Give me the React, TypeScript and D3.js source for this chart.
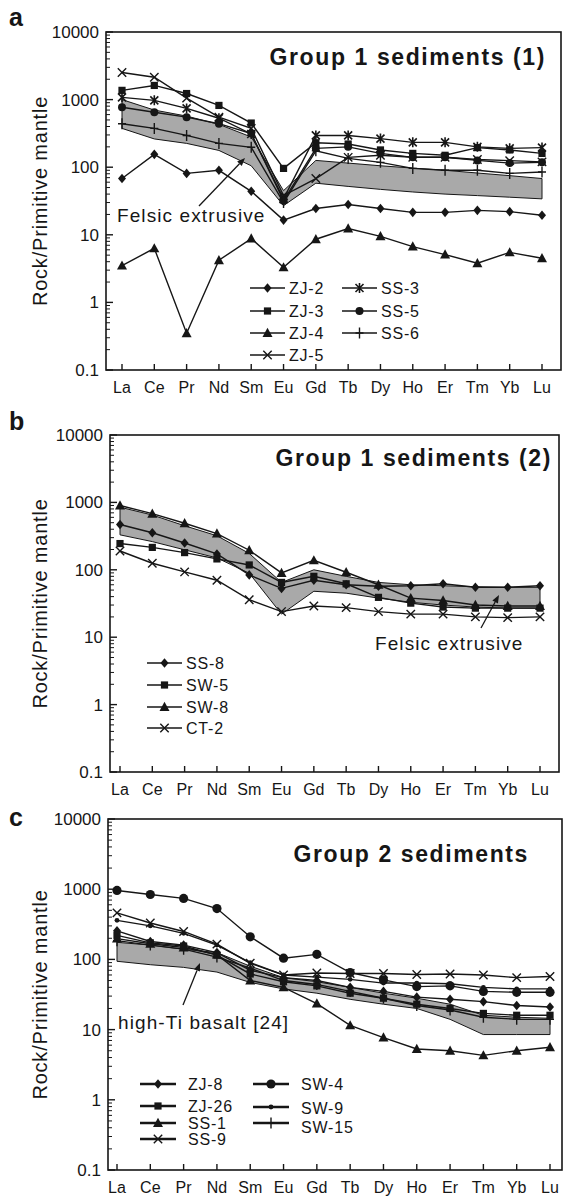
import * as d3 from 'd3'

// REE list and axis ticks
const elements = ['La', 'Ce', 'Pr', 'Nd', 'Sm', 'Eu', 'Gd', 'Tb', 'Dy', 'Ho', 'Er', 'Tm', 'Yb', 'Lu']
const yTickValues = [0.1, 1, 10, 100, 1000, 10000]
const yTickLabels = ['0.1', '1', '10', '100', '1000', '10000']

// panel a - group 1 sediments (1)
const zj2 = [68, 155, 81, 90, 44, 16.5, 24.5, 28, 24.5, 21.5, 21.5, 23, 22, 19.5]
const zj3 = [1370, 1620, 1230, 820, 450, 96, 230, 220, 180, 160, 150, 195, 180, 160]
const zj4 = [3.5, 6.3, 0.35, 4.2, 8.8, 3.3, 8.6, 12.4, 9.5, 6.7, 5.1, 3.8, 5.5, 4.5]
const zj5 = [2520, 2140, 1050, 550, 375, 38, 68, 140, 150, 140, 140, 130, 125, 120]
const ss3 = [1080, 975, 740, 530, 310, 34, 295, 295, 265, 233, 233, 200, 190, 195]
const ss5 = [770, 650, 550, 440, 315, 32, 190, 200, 160, 140, 140, 126, 115, 118]
const ss6 = [440, 375, 295, 225, 197, 30, 175, 135, 118, 96, 90, 90, 81, 85]
const felsicUpperA = [1000, 700, 570, 430, 280, 45, 126, 115, 105, 97, 90, 82, 75, 68]
const felsicLowerA = [375, 262, 225, 177, 105, 27, 58, 52, 47, 43, 40, 38, 36, 34]

// panel b - group 1 sediments (2)
const ss8 = [470, 355, 250, 172, 84, 53, 70, 60, 57, 58, 62, 55, 55, 58]
const sw5 = [245, 215, 180, 145, 118, 65, 80, 62, 39, 32, 28, 27, 27, 27]
const sw8 = [900, 680, 490, 345, 195, 90, 138, 92, 60, 38, 35, 30, 29, 29]
const ct2 = [190, 125, 93, 70, 36, 24, 29, 27.5, 24, 22, 22, 20, 19.5, 20]
const felsicUpperB = [850, 650, 450, 320, 175, 65, 100, 80, 65, 60, 58, 56, 55, 55]
const felsicLowerB = [330, 262, 198, 150, 89, 22, 48, 45, 38, 33, 30, 28, 27, 27]

// panel c - group 2 sediments
const zj8 = [255, 180, 160, 125, 70, 55, 50, 40, 35, 29, 27, 25, 22, 21]
const zj26 = [220, 172, 155, 115, 62, 48, 42, 33, 28, 23, 20, 17, 16, 16]
const ss1 = [198, 167, 148, 117, 50, 40, 23.5, 11.5, 7.7, 5.3, 5.0, 4.3, 5.0, 5.6]
const ss9 = [460, 330, 250, 165, 88, 60, 64, 63, 63, 61, 62, 60, 55, 57]
const sw4 = [960, 840, 740, 530, 210, 104, 118, 65, 51, 41, 42, 35, 34, 34]
const sw9 = [360, 300, 235, 160, 90, 60, 56, 52, 46, 46, 45, 40, 38, 38]
const sw15 = [185, 160, 140, 108, 75, 50, 44, 35, 28, 22, 19, 15, 14, 14]
const basaltUpper = [175, 160, 140, 125, 80, 55, 48, 40, 33, 28, 23, 16, 15, 14.5]
const basaltLower = [94, 84, 77, 66, 47, 38, 33, 27, 23, 20, 14, 8.5, 8.5, 8.5]

const FONT = 'Liberation Sans, Arial, Helvetica, sans-serif'
const INK = '#161616'

const panels = [
  {
    label: 'a', labelY: 26, left: 106, right: 561, top: 32, bottom: 370, x0: 122, x1: 542,
    title: 'Group 1 sediments (1)', titleX: 546, titleY: 65,
    series: [
      { name: 'ZJ-2', values: zj2, marker: 'diamond' },
      { name: 'ZJ-3', values: zj3, marker: 'square' },
      { name: 'ZJ-4', values: zj4, marker: 'triangle' },
      { name: 'ZJ-5', values: zj5, marker: 'cross' },
      { name: 'SS-3', values: ss3, marker: 'asterisk' },
      { name: 'SS-5', values: ss5, marker: 'circle' },
      { name: 'SS-6', values: ss6, marker: 'plus' },
    ],
    band: { upper: felsicUpperA, lower: felsicLowerA },
    note: { text: 'Felsic extrusive', x: 117, y: 222 },
    arrow: [199, 206, 245, 158],
    legendLine: 35, legendTextDx: 39, legendStroke: 1.6,
    legend: [
      [250, 288, 0], [250, 311, 0], [250, 333, 0], [250, 355, 0],
      [342, 288, 0], [342, 311, 0], [342, 333, 0],
    ],
  },
  {
    label: 'b', labelY: 430, left: 110, right: 559, top: 435, bottom: 772, x0: 120, x1: 540,
    title: 'Group 1 sediments (2)', titleX: 552, titleY: 466,
    series: [
      { name: 'SS-8', values: ss8, marker: 'diamond' },
      { name: 'SW-5', values: sw5, marker: 'square' },
      { name: 'SW-8', values: sw8, marker: 'triangle' },
      { name: 'CT-2', values: ct2, marker: 'cross' },
    ],
    band: { upper: felsicUpperB, lower: felsicLowerB },
    note: { text: 'Felsic extrusive', x: 375, y: 650 },
    arrow: [481, 628, 499, 595],
    legendLine: 35, legendTextDx: 39, legendStroke: 1.6,
    legend: [[147, 663, 0], [147, 685, 0], [147, 707, 0], [147, 728, 0]],
  },
  {
    label: 'c', labelY: 826, left: 108, right: 562, top: 819, bottom: 1170, x0: 117, x1: 550,
    title: 'Group 2 sediments', titleX: 529, titleY: 862,
    series: [
      { name: 'ZJ-8', values: zj8, marker: 'diamond' },
      { name: 'ZJ-26', values: zj26, marker: 'square' },
      { name: 'SS-1', values: ss1, marker: 'triangle' },
      { name: 'SS-9', values: ss9, marker: 'cross' },
      { name: 'SW-4', values: sw4, marker: 'bigcircle' },
      { name: 'SW-9', values: sw9, marker: 'dot' },
      { name: 'SW-15', values: sw15, marker: 'plus' },
    ],
    band: { upper: basaltUpper, lower: basaltLower },
    note: { text: 'high-Ti basalt [24]', x: 118, y: 1029 },
    arrow: [183, 1005, 200, 963],
    legendLine: 36, legendTextDx: 48, legendStroke: 2.4,
    legend: [
      [140, 1084, 0], [140, 1106, 0], [140, 1123, 0], [140, 1139, 0],
      [253, 1084, 0], [253, 1107, 1], [253, 1123, 4],
    ],
  },
]

function Marker({ type, x, y }: { type: string; x: number; y: number }) {
  const t = `translate(${x},${y})`
  switch (type) {
    case 'diamond':
      return <path transform={t} d="M0,-4.8L4,0L0,4.8L-4,0Z" fill={INK} />
    case 'square':
      return <rect x={x - 3.6} y={y - 3.6} width={7.2} height={7.2} fill={INK} />
    case 'triangle':
      return <path transform={t} d="M0,-5.2L5,4L-5,4Z" fill={INK} />
    case 'circle':
      return <circle cx={x} cy={y} r={4} fill={INK} />
    case 'bigcircle':
      return <circle cx={x} cy={y} r={4.6} fill={INK} />
    case 'dot':
      return <circle cx={x} cy={y} r={2.4} fill={INK} />
    case 'cross':
      return <path transform={t} d="M-4.2,-4.2L4.2,4.2M-4.2,4.2L4.2,-4.2" stroke={INK} strokeWidth={1.4} />
    case 'asterisk':
      return <path transform={t} d="M-4,-4L4,4M-4,4L4,-4M0,-5L0,5" stroke={INK} strokeWidth={1.6} />
    case 'plus':
      return <path transform={t} d="M0,-5.5L0,5.5M-4,0L4,0" stroke={INK} strokeWidth={1.4} />
    default:
      return null
  }
}

function Panel({ p }: { p: any }) {
  const x = d3.scalePoint<string>().domain(elements).range([p.x0, p.x1])
  const y = d3.scaleLog().domain([0.1, 10000]).range([p.bottom, p.top])

  const line = d3.line<number>()
    .x((_, i) => x(elements[i]) as number)
    .y(d => y(d))

  const area = d3.area<number>()
    .x((_, i) => x(elements[i]) as number)
    .y0((_, i) => y(p.band.lower[i]))
    .y1(d => y(d))

  // log minor ticks 2..9 per decade
  const minor: number[] = []
  for (let e = -1; e < 4; e++) {
    for (let k = 2; k < 10; k++) minor.push(k * Math.pow(10, e))
  }

  const [ax0, ay0, ax1, ay1] = p.arrow
  const ang = Math.atan2(ay1 - ay0, ax1 - ax0)
  const head = 8
  const hw = 3.2
  const bx = ax1 - head * Math.cos(ang)
  const by = ay1 - head * Math.sin(ang)
  const headPath = `M${ax1},${ay1}L${bx - hw * Math.sin(ang)},${by + hw * Math.cos(ang)}L${bx + hw * Math.sin(ang)},${by - hw * Math.cos(ang)}Z`

  const cy = (p.top + p.bottom) / 2

  return (
    <g fontFamily={FONT}>
      <text x={9} y={p.labelY} fontSize={25} fontWeight="bold" fill={INK}>{p.label}</text>

      {/* band */}
      <path d={area(p.band.upper) || ''} fill="#a9a9a9" stroke={INK} strokeWidth={1} />

      {/* series */}
      {p.series.map((s: any) => (
        <g key={s.name}>
          <path d={line(s.values) || ''} fill="none" stroke={INK} strokeWidth={1.4} />
          {s.values.map((v: number, i: number) => (
            <Marker key={i} type={s.marker} x={x(elements[i]) as number} y={y(v)} />
          ))}
        </g>
      ))}

      {/* frame */}
      <rect x={p.left} y={p.top} width={p.right - p.left} height={p.bottom - p.top}
        fill="none" stroke={INK} strokeWidth={1.6} />

      {/* y ticks */}
      {minor.map(v => (
        <line key={v} x1={p.left} x2={p.left + 4} y1={y(v)} y2={y(v)} stroke={INK} strokeWidth={1} />
      ))}
      {yTickValues.map((v, i) => (
        <g key={v}>
          <line x1={p.left} x2={p.left + 7} y1={y(v)} y2={y(v)} stroke={INK} strokeWidth={1.4} />
          <text x={p.left - 7} y={y(v) + 6} textAnchor="end" fontSize={17} fill={INK}>{yTickLabels[i]}</text>
        </g>
      ))}

      {/* x ticks */}
      {elements.map(el => (
        <g key={el}>
          <line x1={x(el)} x2={x(el)} y1={p.bottom} y2={p.bottom - 6} stroke={INK} strokeWidth={1.4} />
          <text x={x(el)} y={p.bottom + 23} textAnchor="middle" fontSize={16} fill={INK}>{el}</text>
        </g>
      ))}

      <text transform={`translate(47,${cy}) rotate(-90)`} textAnchor="middle" fontSize={20}
        letterSpacing={0.8} fill={INK}>Rock/Primitive mantle</text>

      <text x={p.titleX} y={p.titleY} textAnchor="end" fontSize={23} fontWeight="bold"
        letterSpacing={1.6} fill={INK}>{p.title}</text>

      <text x={p.note.x} y={p.note.y} fontSize={19} letterSpacing={1.1} fill={INK}>{p.note.text}</text>
      <line x1={ax0} y1={ay0} x2={bx} y2={by} stroke={INK} strokeWidth={1.3} />
      <path d={headPath} fill={INK} />

      {/* legend */}
      {p.series.map((s: any, i: number) => {
        const [lx, ly, tdy] = p.legend[i]
        return (
          <g key={s.name}>
            <line x1={lx} x2={lx + p.legendLine} y1={ly} y2={ly} stroke={INK} strokeWidth={p.legendStroke} />
            <Marker type={s.marker} x={lx + p.legendLine / 2} y={ly} />
            <text x={lx + p.legendTextDx} y={ly + 6 + tdy} fontSize={16} letterSpacing={0.8} fill={INK}>{s.name}</text>
          </g>
        )
      })}
    </g>
  )
}

export default function App() {
  return (
    <svg width={563} height={1196} style={{ position: 'absolute', left: 0, top: 0, background: '#fff' }}>
      <rect width={563} height={1196} fill="#fff" />
      {panels.map(p => <Panel key={p.label} p={p} />)}
    </svg>
  )
}
